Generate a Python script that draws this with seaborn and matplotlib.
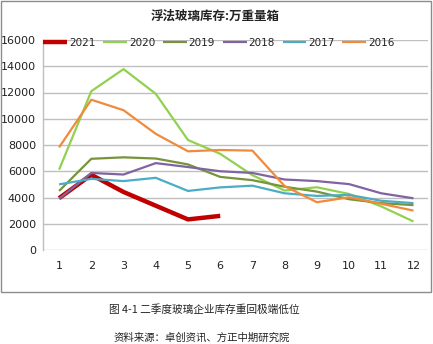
import matplotlib
matplotlib.use("Agg")
import matplotlib.pyplot as plt
import seaborn as sns
import pandas as pd
from matplotlib.patches import Rectangle

months = [1, 2, 3, 4, 5, 6, 7, 8, 9, 10, 11, 12]
years = ["2021", "2020", "2019", "2018", "2017", "2016"]
v2021 = [3950, 5730, 4420, 3375, 2330, 2600]
v2020 = [6120, 12100, 13780, 11900, 8380, 7330, 5700, 4530, 4780, 4270, 3320, 2170]
v2019 = [4500, 6950, 7060, 6970, 6520, 5570, 5320, 4820, 4450, 3870, 3570, 3420]
v2018 = [3900, 5870, 5750, 6620, 6320, 6000, 5870, 5370, 5250, 5020, 4320, 3940]
v2017 = [5000, 5420, 5250, 5500, 4500, 4770, 4900, 4320, 4120, 4200, 3750, 3570]
v2016 = [7820, 11450, 10650, 8850, 7520, 7620, 7570, 4870, 3640, 4020, 3520, 3000]
yticks = [0, 2000, 4000, 6000, 8000, 10000, 12000, 14000, 16000]
title = "浮法玻璃库存:万重量箱"
caption = "图 4-1 二季度玻璃企业库存重回极端低位"
source = "资料来源：卓创资讯、方正中期研究院"

series = [v2021, v2020, v2019, v2018, v2017, v2016]
colors = ["#C00000", "#92D050", "#77933C", "#8064A2", "#4BACC6", "#F08A3C"]
widths = [3.2, 1.6, 1.6, 1.6, 1.6, 1.6]

sns.set_theme(style="white")
plt.rcParams["font.family"] = ["DejaVu Sans", "Noto Sans CJK SC"]

fig = plt.figure(figsize=(4.33, 3.44), dpi=100)
W, H = 433, 344
ax = fig.add_axes([43 / W, (H - 250) / H, (428 - 43) / W, (250 - 40) / H])

for i, (yr, vals, c, lw) in enumerate(zip(years, series, colors, widths)):
    df = pd.DataFrame({"month": months[:len(vals)], "value": vals})
    sns.lineplot(data=df, x="month", y="value", ax=ax, color=c, linewidth=lw,
                 label=yr, zorder=2 + i, solid_capstyle="butt")

ax.set_xlim(0.5, 12.45)
ax.set_ylim(0, 16000)
ax.set_yticks(yticks)
ax.set_yticklabels([str(t) for t in yticks])
ax.set_xticks(months)
ax.set_xticklabels([str(m) for m in months])
ax.set_xlabel("")
ax.set_ylabel("")
ax.grid(axis="y", color="#BFBFBF", linewidth=1.0)
ax.grid(axis="x", visible=False)
for s in ["top", "right", "bottom"]:
    ax.spines[s].set_visible(False)
ax.spines["left"].set_color("#BFBFBF")
ax.spines["left"].set_linewidth(1.0)
ax.tick_params(axis="y", length=3, color="#BFBFBF", labelsize=8, pad=2, labelcolor="#222222")
ax.tick_params(axis="x", length=0, labelsize=8, pad=8, labelcolor="#222222")

leg = ax.legend(loc="center left", bbox_to_anchor=(0.0, 1.0 - 3 / 210), ncol=6, frameon=False,
                fontsize=7.5, handlelength=2.3, handletextpad=0.2, columnspacing=0.72,
                borderaxespad=0, borderpad=0)
for t in leg.get_texts():
    t.set_color("#222222")

fig.text(215 / W, 1 - 16 / H, title, ha="center", va="center", fontsize=9,
         family=["Noto Sans CJK SC"], color="#222222", fontweight="bold")
fig.text(204 / W, 1 - 310 / H, caption, ha="center", va="center", fontsize=7.7,
         family=["Noto Sans CJK SC", "DejaVu Sans"], color="#222222")
fig.text(202 / W, 1 - 338 / H, source, ha="center", va="center", fontsize=7.5,
         family=["Noto Sans CJK SC", "DejaVu Sans"], color="#222222")

fig.patches.append(Rectangle((0.5 / W, 1 - 291.5 / H), 430.5 / W, 291 / H,
                             transform=fig.transFigure, fill=False,
                             edgecolor="#8C8C8C", linewidth=1.0))

fig.savefig("out.png", dpi=100)
